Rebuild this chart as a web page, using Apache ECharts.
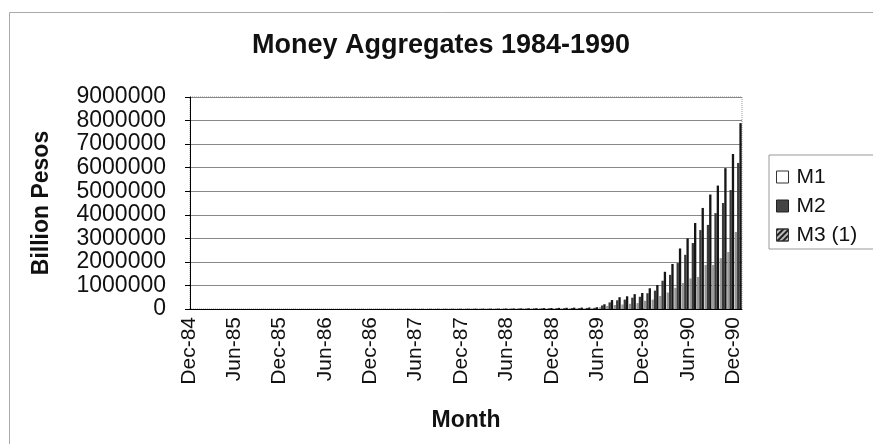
<!DOCTYPE html>
<html>
<head>
<meta charset="utf-8">
<script src="https://cdn.jsdelivr.net/npm/echarts@6/dist/echarts.min.js"></script>
<style>
  html, body { margin: 0; padding: 0; background: #fff; }
  #chart { width: 873px; height: 444px; }
</style>
</head>
<body>
<div id="chart"></div>
<script>
// months Dec-84 .. Dec-90
const monthNames = ['Jan', 'Feb', 'Mar', 'Apr', 'May', 'Jun', 'Jul', 'Aug', 'Sep', 'Oct', 'Nov', 'Dec'];
const categories = ['Dec-84'];
for (const yr of ['85', '86', '87', '88', '89', '90']) {
  for (const m of monthNames) categories.push(m + '-' + yr);
}

const yTicks = [0, 1000000, 2000000, 3000000, 4000000, 5000000, 6000000, 7000000, 8000000, 9000000];

const m1 = [
  380, 420, 460, 490, 530, 570, 630, 670, 700, 740, 780, 840, 910,
  950, 990, 1030, 1060, 1100, 1160, 1200, 1250, 1310, 1370, 1440, 1560,
  1630, 1750, 1860, 2010, 2170, 2360, 2580, 2850, 3150, 3530, 3990, 4480,
  4940, 5510, 6080, 6840, 7790, 8740, 10100, 11400, 12900, 14400, 16000, 17900,
  19800, 21300, 22800, 24300, 30000, 70000, 130000, 170000, 190000, 220000, 250000, 350000,
  400000, 550000, 700000, 900000, 1100000, 1300000, 1360000, 1870000, 1870000, 2160000, 2420000, 3270000
];
const m2 = [
  720, 790, 860, 940, 1010, 1080, 1190, 1260, 1330, 1400, 1480, 1580, 1730,
  1800, 1870, 1940, 2020, 2090, 2200, 2270, 2380, 2480, 2590, 2740, 2950,
  3100, 3310, 3530, 3820, 4100, 4460, 4900, 5400, 5980, 6700, 7560, 8500,
  9400, 10400, 11500, 12900, 14700, 16500, 19000, 21600, 24500, 27300, 30200, 33800,
  37400, 40300, 43200, 46100, 50000, 150000, 280000, 370000, 400000, 480000, 520000, 670000,
  780000, 1200000, 1450000, 1950000, 2300000, 2800000, 3350000, 3570000, 4070000, 4500000, 5050000, 6200000
];
const m3 = [
  1000, 1100, 1200, 1300, 1400, 1500, 1650, 1750, 1850, 1950, 2050, 2200, 2400,
  2500, 2600, 2700, 2800, 2900, 3050, 3150, 3300, 3450, 3600, 3800, 4100,
  4300, 4600, 4900, 5300, 5700, 6200, 6800, 7500, 8300, 9300, 10500, 11800,
  13000, 14500, 16000, 18000, 20500, 23000, 26500, 30000, 34000, 38000, 42000, 47000,
  52000, 56000, 60000, 64000, 75000, 200000, 380000, 500000, 540000, 630000, 680000, 880000,
  1020000, 1580000, 1910000, 2570000, 3000000, 3650000, 4290000, 4860000, 5240000, 5980000, 6580000, 7890000
];

const font = 'Liberation Sans, Arial, sans-serif';
const chart = echarts.init(document.getElementById('chart'), null, { renderer: 'canvas' });

chart.setOption({
  animation: false,
  backgroundColor: '#fff',
  textStyle: { fontFamily: font, color: '#000' },
  title: {
    text: 'Money Aggregates 1984-1990',
    left: 436, textAlign: 'center', top: 27,
    textStyle: { fontFamily: font, fontSize: 27, fontWeight: 'bold', color: '#111' }
  },
  graphic: [{
    type: 'rect', left: 7, top: 10, silent: true,
    shape: { width: 900, height: 460 },
    style: { fill: 'none', stroke: '#aaa', lineWidth: 1 }
  }],
  legend: {
    orient: 'vertical', left: 769, top: 155,
    padding: [11, 30, 3, 7],
    borderColor: '#999', borderWidth: 1,
    icon: 'rect',
    itemWidth: 12, itemHeight: 12, itemGap: 7,
    textStyle: { fontFamily: font, fontSize: 21, color: '#111', lineHeight: 22, padding: [0, 0, 0, 3] },
    data: [
      { name: 'M1', itemStyle: { color: '#fff', borderColor: '#333', borderWidth: 1 } },
      { name: 'M2', itemStyle: { color: '#444', borderColor: '#222', borderWidth: 1 } },
      { name: 'M3 (1)', itemStyle: { color: '#bbb', borderColor: '#333', borderWidth: 1,
          decal: { symbol: 'rect', dashArrayX: [1, 0], dashArrayY: [2, 2], rotation: -Math.PI / 4, color: '#222' } } }
    ]
  },
  grid: {
    left: 190, right: 131, top: 97, bottom: 135,
    show: true, borderColor: '#999', borderWidth: 1, borderType: 'dotted'
  },
  xAxis: {
    type: 'category',
    data: categories,
    boundaryGap: true,
    name: 'Month', nameLocation: 'middle', nameGap: 100,
    nameTextStyle: { fontFamily: font, fontSize: 23, fontWeight: 'bold', color: '#111' },
    axisLine: { lineStyle: { color: '#000', width: 1 } },
    axisTick: { interval: 5, alignWithLabel: true, length: 6, lineStyle: { color: '#000' } },
    axisLabel: {
      interval: 5, rotate: 90, fontFamily: font, fontSize: 21, color: '#111', margin: 8,
      verticalAlign: 'bottom', lineHeight: 10
    }
  },
  yAxis: {
    type: 'value',
    min: 0, max: 9000000, interval: 1000000,
    name: 'Billion Pesos', nameLocation: 'middle', nameRotate: 90, nameGap: 137,
    nameTextStyle: { fontFamily: font, fontSize: 23, fontWeight: 'bold', color: '#111' },
    axisLine: { show: true, lineStyle: { color: '#000', width: 1 } },
    axisTick: { show: true, length: 5, lineStyle: { color: '#000' } },
    axisLabel: {
      fontFamily: font, fontSize: 23, color: '#111', margin: 24,
      formatter: v => (yTicks.indexOf(v) >= 0 ? String(v) : '')
    },
    splitLine: { lineStyle: { color: '#888', width: 1 } }
  },
  series: [
    { name: 'M1', type: 'bar', data: m1, barGap: '0%', barCategoryGap: '8%', itemStyle: { color: '#999' } },
    { name: 'M2', type: 'bar', data: m2, barGap: '0%', barCategoryGap: '8%', itemStyle: { color: '#3a3a3a' } },
    { name: 'M3 (1)', type: 'bar', data: m3, barGap: '0%', barCategoryGap: '8%', itemStyle: { color: '#161616' } }
  ]
});
</script>
</body>
</html>
